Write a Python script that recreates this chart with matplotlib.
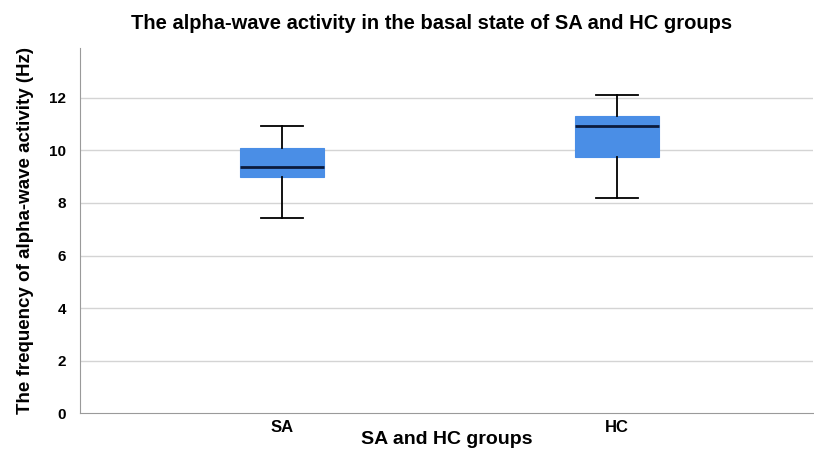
import matplotlib
matplotlib.use("Agg")
import matplotlib.pyplot as plt
from matplotlib import font_manager

# Group labels and box-plot summary statistics (Hz)
groups = ["SA", "HC"]
whisker_low = [7.43, 8.19]
q1 = [8.98, 9.77]
median = [9.36, 10.92]
q3 = [10.11, 11.30]
whisker_high = [10.92, 12.10]
y_ticks = [0, 2, 4, 6, 8, 10, 12]

names = {f.name for f in font_manager.fontManager.ttflist}
family = ["Liberation Sans Narrow"] if "Liberation Sans Narrow" in names else ["Liberation Sans"]
plt.rcParams["font.family"] = family + ["DejaVu Sans"]

fig = plt.figure(figsize=(8.14, 4.53), dpi=100)
ax = fig.add_axes([0.098, 0.088, 0.901, 0.806])

stats = []
for i, g in enumerate(groups):
    stats.append(dict(label=g, whislo=whisker_low[i], q1=q1[i], med=median[i],
                      q3=q3[i], whishi=whisker_high[i], fliers=[]))

positions = [1, 2]
ax.bxp(stats, positions=positions, widths=0.25, capwidths=0.125,
       patch_artist=True, showfliers=False,
       boxprops=dict(facecolor="#4a8ee6", edgecolor="#4a8ee6", linewidth=0.8),
       medianprops=dict(color="#0b1a3c", linewidth=2.0),
       whiskerprops=dict(color="black", linewidth=1.3),
       capprops=dict(color="black", linewidth=1.3),
       zorder=3)

ax.set_xlim(0.397, 2.585)
ax.set_ylim(0, 13.9)
ax.set_yticks(y_ticks)
ax.set_yticklabels([str(t) for t in y_ticks], fontweight="bold", fontsize=11)
ax.set_xticks(positions)
ax.set_xticklabels(groups, fontweight="bold", fontsize=12)
ax.tick_params(axis="both", length=0, pad=5)
ax.tick_params(axis="y", pad=10)

for t in y_ticks[1:]:
    ax.axhline(t, color="#d4d4d4", linewidth=1.0, zorder=1)

for side in ["top", "right"]:
    ax.spines[side].set_visible(False)
ax.spines["left"].set_color("#9a9a9a")
ax.spines["bottom"].set_color("#9a9a9a")

ax.set_xlabel("SA and HC groups", fontweight="bold", fontsize=14, labelpad=-3)
ax.set_ylabel("The frequency of alpha-wave activity (Hz)", fontweight="bold",
              fontsize=13.5, labelpad=11)
fig.suptitle("The alpha-wave activity in the basal state of SA and HC groups",
             fontweight="bold", fontsize=14.5, x=0.53, y=0.968)

fig.savefig("out.png", dpi=100)
